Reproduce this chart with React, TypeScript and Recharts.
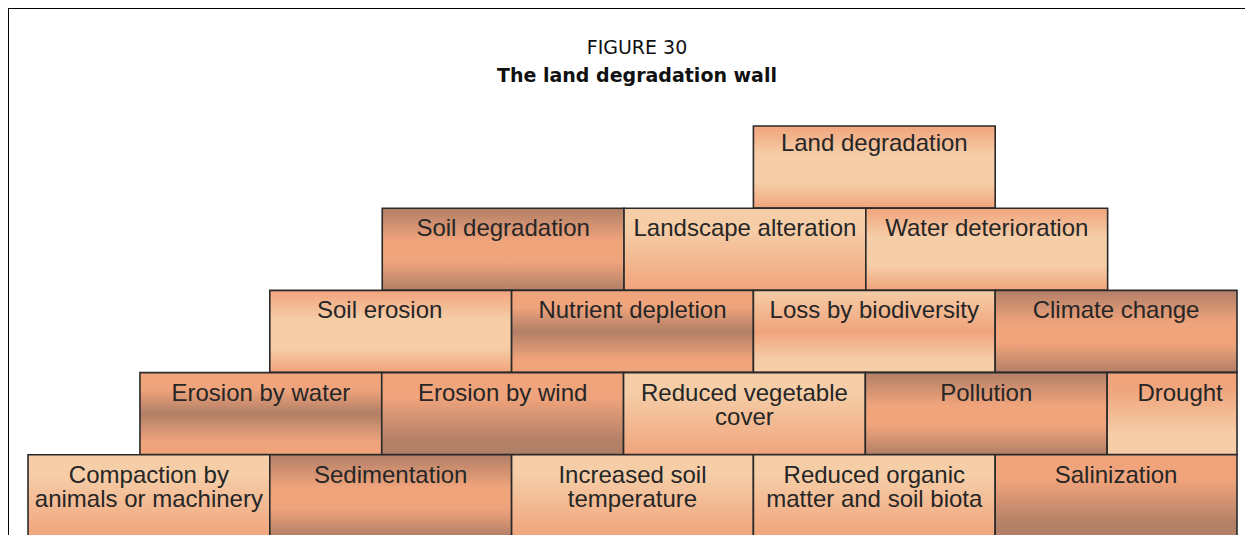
import React from 'react';
import { BarChart, Bar, XAxis, YAxis, Cell, LabelList } from 'recharts';

// rows of the wall, top to bottom
const rows = ['top', 'second', 'middle', 'fourth', 'base'];

// where each row starts, in brick widths from the left of the wall
const rowOffsets = [3, 1.465, 1, 0.463, 0];

// brick widths in each row (1 = full brick)
const brickWidths = [
    [1],
    [1, 1, 1],
    [1, 1, 1, 1],
    [1, 1, 1, 1, 0.537],
    [1, 1, 1, 1, 1],
];

const brickLabels = [
    ['Land degradation'],
    ['Soil degradation', 'Landscape alteration', 'Water deterioration'],
    ['Soil erosion', 'Nutrient depletion', 'Loss by biodiversity', 'Climate change'],
    ['Erosion by water', 'Erosion by wind', 'Reduced vegetable\ncover', 'Pollution', 'Drought'],
    ['Compaction by\nanimals or machinery', 'Sedimentation', 'Increased soil\ntemperature', 'Reduced organic\nmatter and soil biota', 'Salinization'],
];

// shading of each brick (gradient ids)
const brickShades = [
    ['oLo'],
    ['BoB', 'Lo', 'oLo'],
    ['oLo', 'oBo', 'LoL', 'BoB'],
    ['oBo', 'oB', 'Lo', 'BoB', 'oL'],
    ['Lo', 'BoB', 'Lo', 'Lo', 'oB'],
];

// small horizontal nudges of a few labels, px
const labelNudge: Record<string, number> = {
    'Soil erosion': -11,
    'Drought': 8,
};

const LIGHT = '#F5CDA7';
const ORANGE = '#F0A47C';
const BROWN = '#B27F67';

const gradients: Record<string, [number, string][]> = {
    Lo: [[0, LIGHT], [0.25, LIGHT], [1, ORANGE]],
    oL: [[0, ORANGE], [0.2, ORANGE], [0.75, LIGHT], [1, LIGHT]],
    oLo: [[0, ORANGE], [0.35, LIGHT], [0.7, LIGHT], [1, ORANGE]],
    LoL: [[0, LIGHT], [0.5, ORANGE], [0.85, LIGHT], [1, LIGHT]],
    BoB: [[0, BROWN], [0.4, ORANGE], [0.65, ORANGE], [1, BROWN]],
    oBo: [[0, ORANGE], [0.2, ORANGE], [0.5, BROWN], [0.85, ORANGE], [1, ORANGE]],
    oB: [[0, ORANGE], [0.3, ORANGE], [0.85, BROWN], [1, BROWN]],
};

const MAX_BRICKS = 5;

const data = rows.map((row, r) => {
    const entry: any = { row, off: rowOffsets[r] };
    for (let i = 0; i < MAX_BRICKS; i++) {
        entry['b' + i] = brickWidths[r][i] ?? 0;
        entry['n' + i] = brickLabels[r][i] ?? '';
    }
    return entry;
});

const BrickLabel = (props: any) => {
    const { x, y, width, value } = props;
    if (!value || !width) return null;
    const lines = String(value).split('\n');
    // the top brick's text sits a little higher
    const top = y + (value === brickLabels[0][0] ? 25 : 28);
    const cx = x + width / 2 + (labelNudge[value] ?? 0);
    return (
        <text
            x={cx}
            y={top}
            textAnchor="middle"
            fill="#262626"
            fontSize={24}
            fontFamily="'Liberation Sans', Arial, sans-serif"
        >
            {lines.map((line, i) => (
                <tspan key={i} x={cx} dy={i === 0 ? 0 : 24}>{line}</tspan>
            ))}
        </text>
    );
};

export default function App() {
    return (
        <div style={{ position: 'relative', width: 1237, height: 527 }}>
            <style>{'html,body{overflow:hidden}'}</style>
            <div
                style={{
                    position: 'absolute',
                    left: -1,
                    top: -1,
                    width: 1246,
                    height: 536,
                    borderTop: '2px solid #000',
                    borderLeft: '2px solid #000',
                    boxSizing: 'border-box',
                }}
            />
            <svg width={1237} height={100} style={{ position: 'absolute', left: 0, top: 0 }}>
                <text x={629} y={46} textAnchor="middle" fontSize={19} fontFamily="'DejaVu Sans', sans-serif" fill="#111">
                    FIGURE 30
                </text>
                <text x={629} y={74} textAnchor="middle" fontSize={19} fontWeight="bold" fontFamily="'DejaVu Sans', sans-serif" fill="#111">
                    The land degradation wall
                </text>
            </svg>
            <div style={{ position: 'absolute', left: 18, top: 116 }}>
                <BarChart
                    width={1213}
                    height={415}
                    data={data}
                    layout="vertical"
                    barCategoryGap={0}
                    margin={{ top: 2, right: 2, bottom: 2, left: 2 }}
                >
                    <defs>
                        {Object.keys(gradients).map((id) => (
                            <linearGradient key={id} id={'g-' + id} x1="0" y1="0" x2="0" y2="1">
                                {gradients[id].map(([o, c], i) => (
                                    <stop key={i} offset={o} stopColor={c} />
                                ))}
                            </linearGradient>
                        ))}
                    </defs>
                    <XAxis type="number" domain={[0, 5]} hide />
                    <YAxis type="category" dataKey="row" hide />
                    <Bar dataKey="off" stackId="wall" fill="transparent" isAnimationActive={false} />
                    {Array.from({ length: MAX_BRICKS }).map((_, i) => (
                        <Bar
                            key={i}
                            dataKey={'b' + i}
                            stackId="wall"
                            stroke="#2a2a2a"
                            strokeWidth={1.6}
                            isAnimationActive={false}
                        >
                            {data.map((d, r) => (
                                <Cell key={r} fill={brickShades[r][i] ? `url(#g-${brickShades[r][i]})` : 'none'} />
                            ))}
                            <LabelList dataKey={'n' + i} content={<BrickLabel />} />
                        </Bar>
                    ))}
                </BarChart>
            </div>
        </div>
    );
}
